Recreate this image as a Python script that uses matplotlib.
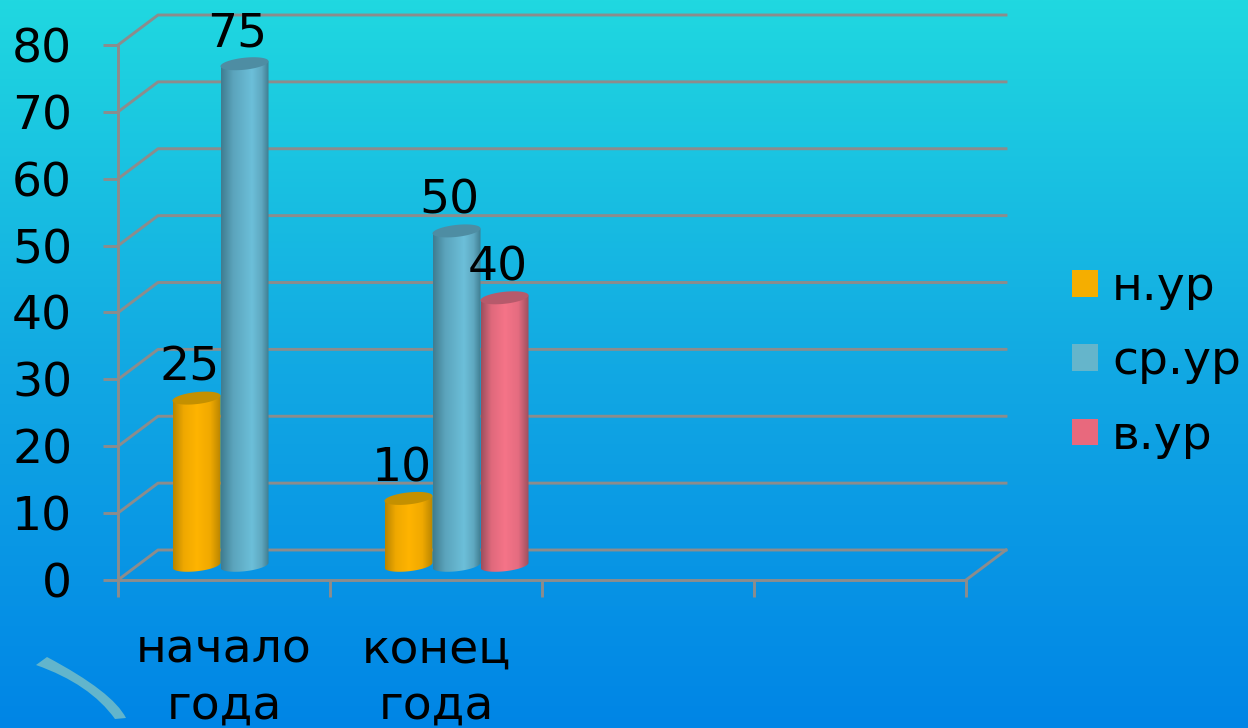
# -*- coding: utf-8 -*-
import numpy as np
import matplotlib
matplotlib.use('Agg')
import matplotlib.pyplot as plt
from matplotlib.patches import Patch, PathPatch, Polygon
from matplotlib.path import Path
from matplotlib.colors import LinearSegmentedColormap

categories = ['начало\nгода', 'конец\nгода']
series_names = ['н.ур', 'ср.ур', 'в.ур']
n_ur = [25, 10]
sr_ur = [75, 50]
v_ur = [None, 40]
y_ticks = [0, 10, 20, 30, 40, 50, 60, 70, 80]

""" colours """
GRID = '#8C8C8C'
bar_cols = [[(0, '#B98500'), (.22, '#EFA800'), (.5, '#FFB400'), (.78, '#F0A900'), (1, '#B98500')],
            [(0, '#3F7C90'), (.25, '#5BA4BC'), (.65, '#6CBFD9'), (.85, '#5FA8C0'), (1, '#3F7C90')],
            [(0, '#9C4F5E'), (.22, '#E0697C'), (.5, '#F57488'), (.78, '#E56C80'), (1, '#9C4F5E')]]
top_cols = ['#C49000', '#4E8DA3', '#B65A6B']
legend_cols = ['#F5AE00', '#65B5CB', '#E8697D']

W, H = 1248, 728
fig = plt.figure(figsize=(W / 100, H / 100), dpi=100)

""" background gradient and the little arc """
bg = fig.add_axes([0, 0, 1, 1])
grad = LinearSegmentedColormap.from_list('bg', ['#20D8E0', '#12A9E3', '#0085E6'])
bg.imshow(np.linspace(0, 1, 256).reshape(-1, 1), cmap=grad, aspect='auto', extent=(0, W, H, 0))
arc = Path([(36, 665), (47, 657), (113, 692), (126, 718), (115, 719), (90, 684), (36, 665), (36, 665)],
           [Path.MOVETO, Path.LINETO, Path.CURVE3, Path.CURVE3, Path.LINETO, Path.CURVE3, Path.CURVE3, Path.CLOSEPOLY])
bg.add_patch(PathPatch(arc, fc='#62B5CC', ec='none'))
bg.set_xlim(0, W)
bg.set_ylim(H, 0)
bg.axis('off')

""" main axes: 4 category slots, 0-80 """
left, right, y0, y80 = 118, 966, 580, 45
ax = fig.add_axes([left / W, 1 - y0 / H, (right - left) / W, (y0 - y80) / H])
ax.patch.set_alpha(0)
ax.set_xlim(0, 4)
ax.set_ylim(0, 80)
px = 4 / (right - left)
py = 80 / (y0 - y80)

depth_x, depth_y = 40 * px, 30 * py
for v in y_ticks:
    ax.plot([0, depth_x, 4 + depth_x], [v, v + depth_y, v + depth_y], color=GRID, lw=2.1, clip_on=False, zorder=1)
ax.plot([4, 4 + depth_x], [0, depth_y], color=GRID, lw=2.1, clip_on=False, zorder=1)

""" cylinders """
bar_w = 48 * px
start = 54.5 * px
base = 2.2
half_h = 6 * py
tilt = 2.5 * py
t = np.linspace(0, 2 * np.pi, 80)

for s, vals in enumerate([n_ur, sr_ur, v_ur]):
    cmap = LinearSegmentedColormap.from_list('b%d' % s, bar_cols[s])
    for c, v in enumerate(vals):
        if v is None:
            continue
        x0 = c + start + s * bar_w
        xm = x0 + bar_w / 2
        top = base + v
        # lower half of the base ellipse, right to left
        tb = np.linspace(0, np.pi, 40)
        low_x = xm + bar_w / 2 * np.cos(tb)
        low_y = base - half_h * np.sin(tb) + tilt * np.cos(tb)
        body = Polygon(np.vstack([[[x0, top - tilt], [x0 + bar_w, top + tilt]], np.column_stack([low_x, low_y])]),
                       closed=True, transform=ax.transData, fc='none', ec='none')
        ax.add_patch(body)
        im = ax.imshow(np.linspace(0, 1, 128).reshape(1, -1), cmap=cmap, aspect='auto',
                       extent=(x0, x0 + bar_w, base - 2 * half_h, top + 2 * half_h), zorder=3 + s)
        im.set_clip_path(body)
        ax.fill(xm + bar_w / 2 * np.cos(t), top + half_h * np.sin(t) + tilt * np.cos(t),
                color=top_cols[s], lw=0, clip_on=False, zorder=3 + s)
        ax.annotate(str(v), (xm, top), xytext=(-5, 21.5), textcoords='offset points',
                    ha='center', va='center', fontsize=34, color='black', zorder=10, annotation_clip=False)

ax.set_xlim(0, 4)
ax.set_ylim(0, 80)

""" axes lines, ticks, labels """
for side in ['top', 'right']:
    ax.spines[side].set_visible(False)
for side in ['left', 'bottom']:
    ax.spines[side].set_color(GRID)
    ax.spines[side].set_linewidth(2.1)
ax.set_yticks(y_ticks)
ax.set_xticks([0, 1, 2, 3, 4])
ax.set_xticklabels([])
ax.set_xticks([0.5, 1.5], labels=categories, minor=True)
ax.tick_params(axis='y', length=11, width=2.1, color=GRID, labelsize=34, pad=22)
ax.tick_params(axis='x', which='major', length=12, width=2.1, color=GRID)
ax.tick_params(axis='x', which='minor', length=0, labelsize=34, pad=34)
for lab in ax.get_xticklabels(minor=True):
    lab.set_linespacing(1.33)

handles = [Patch(fc=legend_cols[i], ec='none') for i in range(3)]
fig.legend(handles, series_names, loc='center left', bbox_to_anchor=(1072 / W, 1 - 362 / H), frameon=False,
           fontsize=34, handlelength=0.55, handleheight=0.5, handletextpad=0.3, labelspacing=0.62, borderpad=0, borderaxespad=0)

fig.savefig('out.png', dpi=100)
